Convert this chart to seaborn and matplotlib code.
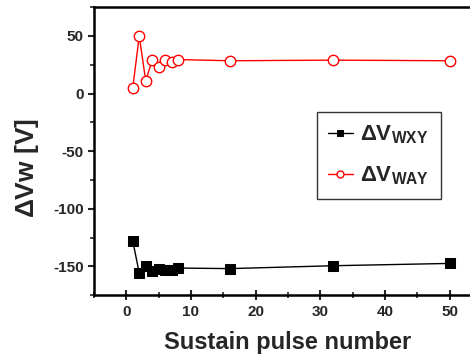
import matplotlib
matplotlib.use("Agg")
import matplotlib.pyplot as plt
import seaborn as sns
import pandas as pd
from matplotlib.ticker import MultipleLocator, FixedLocator

pulses = [1, 2, 3, 4, 5, 6, 7, 8, 16, 32, 50]
v_wxy = [-128, -156, -150, -154, -152, -153.5, -153, -151.5, -152, -149.5, -147.5]
v_way = [5, 50, 11, 29, 23, 29, 27, 29.5, 28.5, 29, 28.5]
x_ticks = [0, 10, 20, 30, 40, 50]

sns.set_theme(style="ticks")
plt.rcParams['font.family'] = ['Liberation Sans', 'DejaVu Sans']
plt.rcParams['font.weight'] = 'bold'
plt.rcParams['axes.unicode_minus'] = False
plt.rcParams['mathtext.fontset'] = 'custom'
plt.rcParams['mathtext.rm'] = 'Liberation Sans'
plt.rcParams['mathtext.bf'] = 'Liberation Sans:bold'
plt.rcParams['mathtext.it'] = 'Liberation Sans:italic'

fig = plt.figure(figsize=(4.7, 3.59), dpi=100)
ax = fig.add_axes([0.2, 0.178, 0.894, 0.802])

df1 = pd.DataFrame({"x": pulses, "y": v_wxy})
df2 = pd.DataFrame({"x": pulses, "y": v_way})

sns.lineplot(data=df1, x="x", y="y", ax=ax, color="black", lw=1.0,
             marker="s", markersize=6.5, markerfacecolor="black",
             markeredgecolor="black", label=r"$\Delta\mathbf{V}_{\mathbf{WXY}}$")
sns.lineplot(data=df2, x="x", y="y", ax=ax, color="red", lw=1.0,
             marker="o", markersize=7.5, markerfacecolor="white",
             markeredgecolor="red", markeredgewidth=1.0,
             label=r"$\Delta\mathbf{V}_{\mathbf{WAY}}$")

ax.set_xlim(-5, 60)
ax.set_ylim(-175, 75)
ax.xaxis.set_major_locator(FixedLocator(x_ticks))
ax.xaxis.set_minor_locator(FixedLocator([-5, 5, 15, 25, 35, 45, 55]))
ax.yaxis.set_major_locator(MultipleLocator(50))
ax.yaxis.set_minor_locator(MultipleLocator(25))

for s in ax.spines.values():
    s.set_linewidth(1.8)
    s.set_color("black")

ax.tick_params(axis='x', which='major', direction='inout', length=7, width=1.5,
               labelsize=11)
ax.tick_params(axis='x', which='minor', direction='inout', length=4, width=1.2)
ax.tick_params(axis='y', which='major', direction='out', length=4, width=1.5,
               labelsize=11)
ax.tick_params(axis='y', which='minor', direction='out', length=3, width=1.2)

ax.set_xlabel("Sustain pulse number", fontsize=17, fontweight='bold')
ax.set_ylabel(r"$\Delta$Vw [V]", fontsize=19, fontweight='bold')
ax.xaxis.set_label_coords(0.46, -0.125)
ax.yaxis.set_label_coords(-0.125, 0.44)

leg = ax.legend(loc='upper left', bbox_to_anchor=(0.531, 0.635), borderaxespad=0,
                fancybox=False, frameon=True, edgecolor='black', fontsize=16,
                handlelength=1.1, handletextpad=0.35, borderpad=0.5,
                labelspacing=0.85)
leg.get_frame().set_linewidth(1.0)
for h in leg.legend_handles:
    h.set_markersize(5)

fig.savefig("out.png", dpi=100)
